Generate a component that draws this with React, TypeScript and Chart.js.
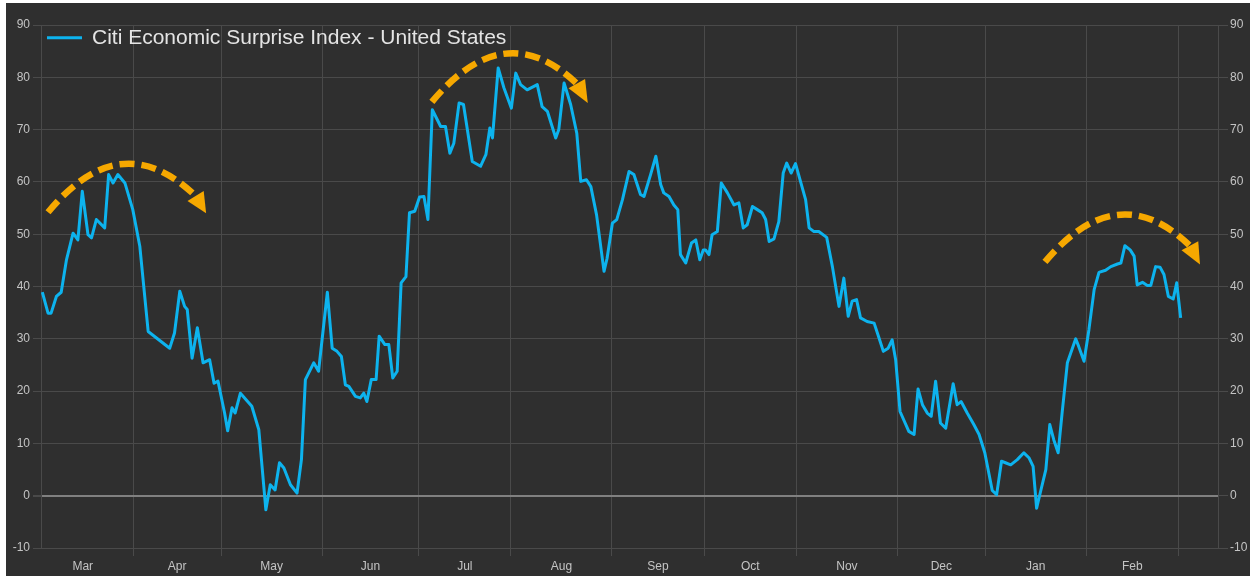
import React, { useEffect, useRef } from 'react';
import { Chart, registerables } from 'chart.js';

Chart.register(...registerables);

// ---- data (x = trading day counted from the start of March, y = index value) ----
const tradingDay = [
  0.3, 1.6, 2.3, 3.5, 4.6, 5.8, 7.3, 8.4, 9.4, 10.7, 11.5, 12.6, 14.5, 15.4, 16.4, 17.5, 19.1, 20.9, 22.5, 24.4,
  29.3, 30.4, 31.6, 32.7, 33.3, 34.4, 35.6, 36.9, 38.4, 39.4, 40.3, 41.8, 42.5, 43.5, 44.2, 45.4, 48.0, 49.6,
  51.2, 52.2, 53.3, 54.3, 55.3, 56.8, 58.3, 59.3, 60.2, 62.1, 63.2, 65.2, 66.3, 67.4, 68.4, 69.3, 70.1, 71.6,
  72.7, 73.5, 74.2, 75.2, 76.3, 77.0, 78.3, 79.2, 80.1, 81.1, 82.0, 83.1, 83.9, 85.1, 86.2, 87.2, 88.1, 89.1,
  91.0, 92.1, 93.1, 94.0, 95.2, 96.2, 98.2, 100.1, 101.3, 102.2, 102.8, 104.1, 105.4, 107.1, 108.1, 109.2,
  110.7, 113.0, 114.1, 115.3, 117.2, 117.9, 119.1, 120.6, 122.0, 122.9, 124.2, 125.2, 126.5, 128.2, 128.9,
  130.1, 131.1, 132.4, 133.9, 135.0, 136.5, 137.3, 138.8, 140.0, 141.1, 141.8, 143.0, 144.1, 145.0, 145.6,
  146.8, 148.1, 149.1, 150.0, 150.8, 151.3, 152.1, 152.8, 154.0, 154.9, 156.3, 157.8, 158.9, 159.9, 160.8,
  162.0, 163.1, 164.2, 165.0, 165.8, 166.9, 168.0, 169.0, 169.8, 170.8, 171.8, 174.1, 174.9, 176.0, 177.1,
  178.9, 180.2, 181.7, 182.8, 183.8, 184.7, 185.7, 186.6, 188.1, 189.7, 190.8, 191.8, 192.9, 193.8, 194.6,
  195.6, 197.6, 198.8, 199.7, 200.7, 201.8, 202.7, 203.7, 204.8, 206.0, 207.7, 208.6, 209.5, 210.9, 212.4,
  213.6, 214.9, 216.6, 217.6, 218.7, 219.6, 220.8, 222.3, 223.8, 225.0, 225.9, 226.7, 227.6, 228.8, 229.7,
  230.6, 231.6, 232.5, 233.7, 235.6, 236.3, 237.5, 238.6, 239.8, 240.9, 242.4, 243.6, 245.1, 245.9, 246.8,
  248.0, 248.9, 249.6, 250.8, 251.9, 252.7, 253.8, 254.8, 255.7, 256.7, 257.8, 258.6, 259.5,
];

const surpriseIndex = [
  38.9, 34.9, 34.9, 38.1, 38.9, 45.1, 50.2, 48.9, 58.2, 49.9, 49.3, 52.8, 51.2, 61.4, 59.8, 61.4, 59.8, 54.7, 47.7, 31.4,
  28.2, 31.1, 39.1, 36.2, 35.6, 26.3, 32.1, 25.4, 26.0, 21.5, 21.9, 15.8, 12.4, 16.8, 15.8, 19.6, 17.1, 12.6,
  -2.7, 2.1, 1.1, 6.3, 5.3, 2.1, 0.5, 6.9, 22.2, 25.4, 23.8, 38.9, 28.2, 27.6, 26.6, 21.2, 20.9, 19.0,
  18.7, 19.6, 18.0, 22.2, 22.2, 30.5, 28.9, 28.9, 22.5, 23.8, 40.7, 41.9, 54.1, 54.4, 57.1, 57.2, 52.8, 73.8,
  70.6, 70.6, 65.5, 67.4, 75.1, 74.8, 63.9, 63.0, 65.2, 70.3, 68.4, 81.8, 78.0, 74.1, 80.8, 78.6,
  77.6, 78.6, 74.4, 73.5, 68.4, 70.0, 78.9, 74.8, 69.3, 60.1, 60.4, 59.1, 53.7, 42.9, 45.4,
  52.1, 52.8, 56.6, 62.0, 61.4, 57.6, 57.2, 61.4, 64.9, 59.5, 57.9, 57.2, 55.6, 54.7, 46.1,
  44.5, 48.3, 48.9, 45.1, 47.0, 47.0, 46.1, 49.9, 50.5, 59.8, 57.9, 55.6, 56.0, 51.2, 51.8,
  55.3, 54.7, 54.1, 52.8, 48.6, 49.1, 52.4, 61.7, 63.6, 61.7, 63.5, 56.6, 51.2, 50.5, 50.5,
  49.4, 43.8, 36.2, 41.6, 34.3, 37.2, 37.5, 34.0, 33.3, 33.0, 30.2, 27.6, 28.2, 29.8, 26.0,
  16.1, 12.3, 11.7, 20.4, 17.4, 15.8, 15.2, 21.9, 13.9, 12.9, 21.4, 17.4, 18.0, 15.8, 13.6,
  11.7, 8.2, 1.0, 0.2, 6.6, 6.3, 5.9, 6.9, 8.2, 7.2, 5.6, -2.4, 0.8, 5.0, 13.6,
  10.7, 8.2, 15.8, 25.4, 30.0, 28.5, 25.7, 31.7, 39.4, 42.7, 43.1, 43.8, 44.3, 44.5, 47.8,
  47.0, 45.8, 40.3, 40.8, 40.2, 40.2, 43.8, 43.7, 42.3, 38.1, 37.6, 40.7, 34.0,
];

const monthLabels = ['Mar', 'Apr', 'May', 'Jun', 'Jul', 'Aug', 'Sep', 'Oct', 'Nov', 'Dec', 'Jan', 'Feb'];
// trading day on which each month begins (first March began before the chart starts; last = next March)
const monthStartDay = [-2, 21, 41, 64, 86, 107, 130, 151, 172, 195, 215, 238, 259];
const xMin = 0;
const xMax = 268;
const yMin = -10;
const yMax = 90;
const yStep = 10;

const seriesName = 'Citi Economic Surprise Index - United States';

// dashed "rolling over" arrows, in data units: [tradingDay, value]
const arrowStart = [[1.6, 54.2], [89.0, 75.3], [228.6, 44.7]];
const arrowMid = [[18.3, 63.4], [105.5, 84.5], [245.1, 53.7]];
const arrowEnd = [[35.2, 57.3], [122.0, 78.8], [261.6, 47.8]];
const arrowTip = [[37.6, 54.0], [124.5, 75.1], [263.9, 44.2]];

// ---- styles ----
const BG = '#2f2f2f';
const GRID = '#4a4a4a';
const ZERO = '#808080';
const TEXT = '#c4c4c4';
const LINE = '#0db3ee';
const ORANGE = '#f6a800';
const FONT = "'Liberation Sans', Arial, sans-serif";

const labelDays = monthLabels.map((_, i) => (monthStartDay[i] + monthStartDay[i + 1]) / 2);
const labelByDay = new Map<number, string>(labelDays.map((d, i) => [d, monthLabels[i]]));
const boundarySet = new Set<number>(monthStartDay.filter((d) => d >= xMin && d <= xMax));

const backgroundPlugin = {
  id: 'bg',
  beforeDraw(chart: any) {
    const { ctx, width, height } = chart;
    ctx.save();
    ctx.fillStyle = BG;
    ctx.fillRect(0, 0, width, height);
    ctx.restore();
  },
};

const legendPlugin = {
  id: 'insideLegend',
  afterDraw(chart: any) {
    const { ctx, chartArea } = chart;
    const y = chartArea.top + 12.7;
    const x0 = chartArea.left + 6;
    ctx.save();
    ctx.strokeStyle = LINE;
    ctx.lineWidth = 3;
    ctx.beginPath();
    ctx.moveTo(x0, y);
    ctx.lineTo(x0 + 35, y);
    ctx.stroke();
    ctx.fillStyle = '#e4e4e4';
    ctx.font = `21px ${FONT}`;
    ctx.textBaseline = 'middle';
    ctx.textAlign = 'left';
    ctx.fillText(seriesName, x0 + 45, y + 1);
    ctx.restore();
  },
};

const arrowsPlugin = {
  id: 'arrows',
  afterDatasetsDraw(chart: any) {
    const { ctx } = chart;
    const xs = chart.scales.x;
    const ys = chart.scales.y;
    const P = (p: number[]) => [xs.getPixelForValue(p[0]), ys.getPixelForValue(p[1])];
    ctx.save();
    arrowStart.forEach((s, i) => {
      const S = P(s);
      const M = P(arrowMid[i]);
      const E = P(arrowEnd[i]);
      const T = P(arrowTip[i]);
      const C = [2 * M[0] - (S[0] + E[0]) / 2, 2 * M[1] - (S[1] + E[1]) / 2];
      ctx.strokeStyle = ORANGE;
      ctx.lineWidth = 6.5;
      ctx.lineCap = 'butt';
      ctx.setLineDash([15, 7]);
      ctx.beginPath();
      ctx.moveTo(S[0], S[1]);
      ctx.quadraticCurveTo(C[0], C[1], E[0], E[1]);
      ctx.stroke();
      ctx.setLineDash([]);
      const dx = T[0] - E[0];
      const dy = T[1] - E[1];
      const len = Math.hypot(dx, dy) || 1;
      const px = -dy / len;
      const py = dx / len;
      const half = 9.5;
      ctx.fillStyle = ORANGE;
      ctx.beginPath();
      ctx.moveTo(T[0], T[1]);
      ctx.lineTo(E[0] + px * half, E[1] + py * half);
      ctx.lineTo(E[0] - px * half, E[1] - py * half);
      ctx.closePath();
      ctx.fill();
    });
    ctx.restore();
  },
};

export default function App() {
  const canvasRef = useRef<HTMLCanvasElement | null>(null);

  useEffect(() => {
    if (!canvasRef.current) return;
    const points = tradingDay.map((d, i) => ({ x: d, y: surpriseIndex[i] }));
    const tickFont = { family: FONT, size: 12 };
    const chart = new Chart(canvasRef.current, {
      type: 'line',
      data: {
        datasets: [
          {
            label: seriesName,
            data: points,
            borderColor: LINE,
            backgroundColor: LINE,
            borderWidth: 3,
            pointRadius: 0,
            tension: 0,
            borderJoinStyle: 'round',
            fill: false,
          },
        ],
      },
      options: {
        animation: false,
        responsive: true,
        maintainAspectRatio: false,
        layout: { padding: { top: 22, left: 0, right: 0, bottom: 0 } },
        plugins: {
          legend: { display: false },
          tooltip: { enabled: false },
        },
        scales: {
          x: {
            type: 'linear',
            min: xMin,
            max: xMax,
            afterBuildTicks: (scale: any) => {
              const vals: number[] = [];
              boundarySet.forEach((v) => vals.push(v));
              labelDays.forEach((v) => vals.push(v));
              vals.sort((a, b) => a - b);
              scale.ticks = vals.map((value) => ({ value }));
            },
            afterFit: (scale: any) => {
              scale.height = 28;
            },
            grid: {
              color: (c: any) => (c.tick && boundarySet.has(c.tick.value) ? GRID : 'rgba(0,0,0,0)'),
              tickColor: (c: any) => (c.tick && boundarySet.has(c.tick.value) ? GRID : 'rgba(0,0,0,0)'),
              tickLength: 8,
              lineWidth: 1,
            },
            border: { display: false },
            ticks: {
              autoSkip: false,
              maxRotation: 0,
              minRotation: 0,
              padding: 3,
              color: TEXT,
              font: tickFont,
              callback: (value: any) => labelByDay.get(Number(value)) ?? '',
            },
          },
          y: {
            type: 'linear',
            position: 'left',
            min: yMin,
            max: yMax,
            afterFit: (scale: any) => {
              scale.width = 35;
            },
            grid: {
              color: (c: any) => (c.tick && c.tick.value === 0 ? ZERO : GRID),
              lineWidth: (c: any) => (c.tick && c.tick.value === 0 ? 2 : 1),
              tickColor: GRID,
              tickLength: 8,
            },
            border: { display: true, color: GRID, width: 1 },
            ticks: { stepSize: yStep, padding: 3, color: TEXT, font: tickFont },
          },
          y2: {
            type: 'linear',
            position: 'right',
            min: yMin,
            max: yMax,
            afterFit: (scale: any) => {
              scale.width = 32;
            },
            grid: { drawOnChartArea: false, tickColor: GRID, tickLength: 10 },
            border: { display: true, color: GRID, width: 1 },
            ticks: { stepSize: yStep, padding: 2, color: TEXT, font: tickFont },
          },
        },
      },
      plugins: [backgroundPlugin, arrowsPlugin, legendPlugin],
    } as any);
    return () => chart.destroy();
  }, []);

  return (
    <div style={{ position: 'absolute', left: 6, top: 3, width: 1244, height: 573 }}>
      <canvas ref={canvasRef} />
    </div>
  );
}
